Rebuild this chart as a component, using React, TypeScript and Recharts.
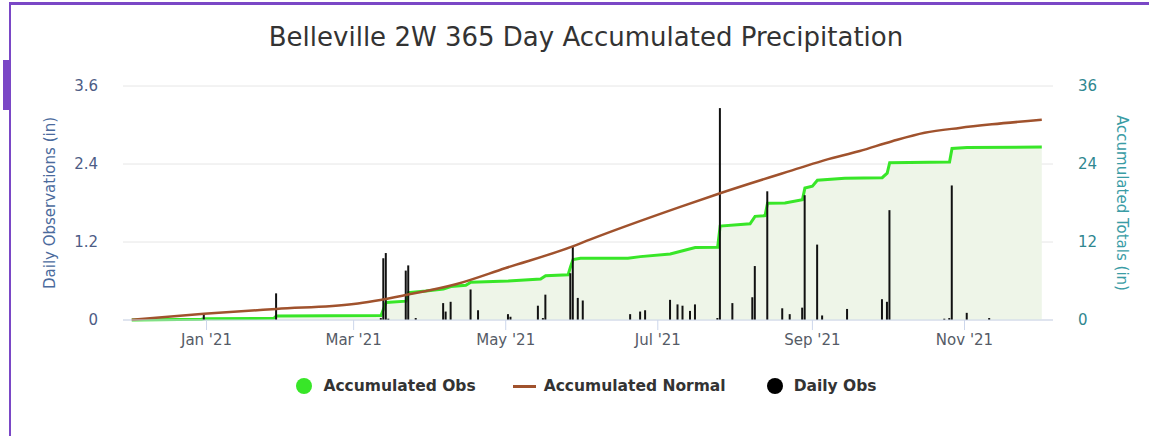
import React from 'react';
import { ComposedChart, Area, Line, Bar, XAxis, YAxis, CartesianGrid, Legend } from 'recharts';

// day 0 = Dec 2, 2020 ... day 365 = Dec 2, 2021
const tickDays = [30, 89, 150, 211, 273, 334];
const tickLabels = ["Jan '21", "Mar '21", "May '21", "Jul '21", "Sep '21", "Nov '21"];

// daily observed precipitation (in)
const rainDays = [29, 58, 100, 101, 102, 103, 110, 111, 114, 125, 126, 128, 136, 139, 151, 152, 163, 165, 166, 176, 177, 179, 181, 200, 204, 206, 216, 219, 221, 224, 226, 235, 236, 241, 249, 250, 255, 261, 264, 269, 270, 275, 277, 287, 301, 303, 304, 326, 328, 329, 335, 344];
const rainAmounts = [0.09, 0.41, 0.03, 0.95, 1.03, 0.02, 0.76, 0.84, 0.03, 0.26, 0.13, 0.28, 0.47, 0.15, 0.09, 0.05, 0.22, 0.03, 0.39, 0.72, 1.13, 0.34, 0.3, 0.09, 0.13, 0.15, 0.31, 0.24, 0.22, 0.14, 0.24, 0.03, 3.26, 0.26, 0.35, 0.83, 1.98, 0.18, 0.09, 0.19, 1.92, 1.16, 0.07, 0.17, 0.32, 0.28, 1.69, 0.02, 0.03, 2.07, 0.11, 0.03];

// accumulated observed (in)
const obsDays = [0, 28, 29, 57, 58, 100, 101, 102, 110, 111, 118, 125, 128, 134, 136, 151, 164, 166, 175, 176, 177, 180, 199, 204, 216, 221, 226, 235, 236, 248, 250, 254, 255, 262, 269, 270, 273, 275, 286, 301, 303, 304, 328, 329, 335, 365];
const obsTotals = [0, 0.12, 0.2, 0.25, 0.62, 0.7, 1.7, 2.7, 2.9, 4.22, 4.45, 4.75, 5.15, 5.35, 5.8, 6.0, 6.3, 6.8, 6.95, 8.2, 9.3, 9.5, 9.5, 9.75, 10.15, 10.65, 11.15, 11.2, 14.45, 14.8, 15.95, 16.05, 17.95, 18.0, 18.5, 20.3, 20.6, 21.5, 21.8, 21.9, 22.6, 24.2, 24.3, 26.4, 26.55, 26.6];

// accumulated normal (in)
const normalDays = [0, 29, 58, 89, 110, 130, 150, 176, 184, 220, 236, 268, 278, 292, 305, 318, 332, 345, 365];
const normalTotals = [0.05, 0.95, 1.7, 2.45, 3.85, 5.5, 8.0, 11.2, 12.4, 17.4, 19.5, 23.4, 24.6, 26.0, 27.5, 28.8, 29.55, 30.1, 30.8];

const GREEN = '#38e628';
const BROWN = '#a0522d';
const FONT = '"DejaVu Sans", Verdana, sans-serif';

const rows = new Map<number, any>();
const row = (d: number) => {
  if (!rows.has(d)) rows.set(d, { day: d });
  return rows.get(d);
};
rainDays.forEach((d, i) => (row(d).daily = rainAmounts[i]));
obsDays.forEach((d, i) => (row(d).accObs = obsTotals[i]));
normalDays.forEach((d, i) => (row(d).accNormal = normalTotals[i]));
const data = Array.from(rows.values()).sort((a, b) => a.day - b.day);

const legendItems = [
  { label: 'Accumulated Obs', color: GREEN, kind: 'circle', gap: 37 },
  { label: 'Accumulated Normal', color: BROWN, kind: 'line', gap: 41 },
  { label: 'Daily Obs', color: '#000', kind: 'circle', gap: 0 },
];

function ChartLegend() {
  return (
    <div style={{ display: 'flex', justifyContent: 'center', alignItems: 'center', height: 30, fontFamily: FONT, paddingLeft: 24 }}>
      {legendItems.map((it) => (
        <div key={it.label} style={{ display: 'flex', alignItems: 'center', marginRight: it.gap }}>
          {it.kind === 'circle' ? (
            <span style={{ width: 16, height: 16, borderRadius: 8, background: it.color, display: 'inline-block', marginRight: 11 }} />
          ) : (
            <span style={{ width: 23, height: 3, background: it.color, display: 'inline-block', marginRight: 8 }} />
          )}
          <span style={{ fontSize: 15.5, fontWeight: 'bold', color: '#333' }}>{it.label}</span>
        </div>
      ))}
    </div>
  );
}

export default function App() {
  return (
    <div style={{ position: 'absolute', left: 0, top: 0, width: 1149, height: 436, background: '#fff', overflow: 'hidden' }}>
      <div style={{ position: 'absolute', left: 9, top: 2, right: 0, bottom: 0, borderTop: '3px solid #7a47c6', borderLeft: '2.5px solid #7a47c6' }} />
      <div style={{ position: 'absolute', left: 3, top: 60, width: 8, height: 50, background: '#7a47c6' }} />
      <div
        style={{
          position: 'absolute',
          top: 22,
          left: 0,
          width: 1172,
          textAlign: 'center',
          fontFamily: FONT,
          fontSize: 26,
          lineHeight: '30px',
          color: '#333',
        }}
      >
        Belleville 2W 365 Day Accumulated Precipitation
      </div>
      <ComposedChart
        width={1149}
        height={436}
        data={data}
        margin={{ top: 86, right: 0, bottom: 36, left: 43 }}
        style={{ position: 'absolute', left: 0, top: 0, fontFamily: FONT }}
      >
        <CartesianGrid yAxisId="daily" vertical={false} stroke="#e6e6e6" />
        <XAxis
          type="number"
          dataKey="day"
          domain={[-3.5, 369.5]}
          ticks={tickDays}
          tickFormatter={(v) => tickLabels[tickDays.indexOf(v)] ?? ''}
          tickSize={10}
          tickMargin={4}
          height={50}
          stroke="#ccd6eb"
          tick={{ fill: '#555b66', fontSize: 15 }}
          allowDataOverflow
        />
        <YAxis
          yAxisId="daily"
          domain={[0, 3.6]}
          ticks={[0, 1.2, 2.4, 3.6]}
          width={80}
          axisLine={false}
          tickLine={false}
          tickSize={0}
          tickMargin={25}
          tick={{ fill: '#4d5c85', fontSize: 15 }}
          label={{
            value: 'Daily Observations (in)',
            angle: -90,
            position: 'insideLeft',
            offset: 7,
            fill: '#4a6a9c',
            fontSize: 15,
            style: { textAnchor: 'middle' },
          }}
        />
        <YAxis
          yAxisId="acc"
          orientation="right"
          domain={[0, 36]}
          ticks={[0, 12, 24, 36]}
          width={96}
          axisLine={false}
          tickLine={false}
          tickSize={0}
          tickMargin={25}
          tick={{ fill: '#2f8790', fontSize: 15 }}
          label={{
            value: 'Accumulated Totals (in)',
            angle: 90,
            position: 'insideRight',
            offset: 27,
            fill: '#3a9ca5',
            fontSize: 15,
            style: { textAnchor: 'middle' },
          }}
        />
        <Area
          yAxisId="acc"
          type="linear"
          dataKey="accObs"
          name="Accumulated Obs"
          stroke={GREEN}
          strokeWidth={3}
          fill="#eef5e8"
          fillOpacity={1}
          connectNulls
          dot={false}
          activeDot={false}
          isAnimationActive={false}
        />
        <Line
          yAxisId="acc"
          type="monotone"
          dataKey="accNormal"
          name="Accumulated Normal"
          stroke={BROWN}
          strokeWidth={2.5}
          connectNulls
          dot={false}
          activeDot={false}
          isAnimationActive={false}
        />
        <Bar yAxisId="daily" dataKey="daily" name="Daily Obs" fill="#111" barSize={2} isAnimationActive={false} />
        <Legend verticalAlign="bottom" content={() => <ChartLegend />} wrapperStyle={{ top: 371, left: 0, width: 1149 }} />
      </ComposedChart>
    </div>
  );
}
